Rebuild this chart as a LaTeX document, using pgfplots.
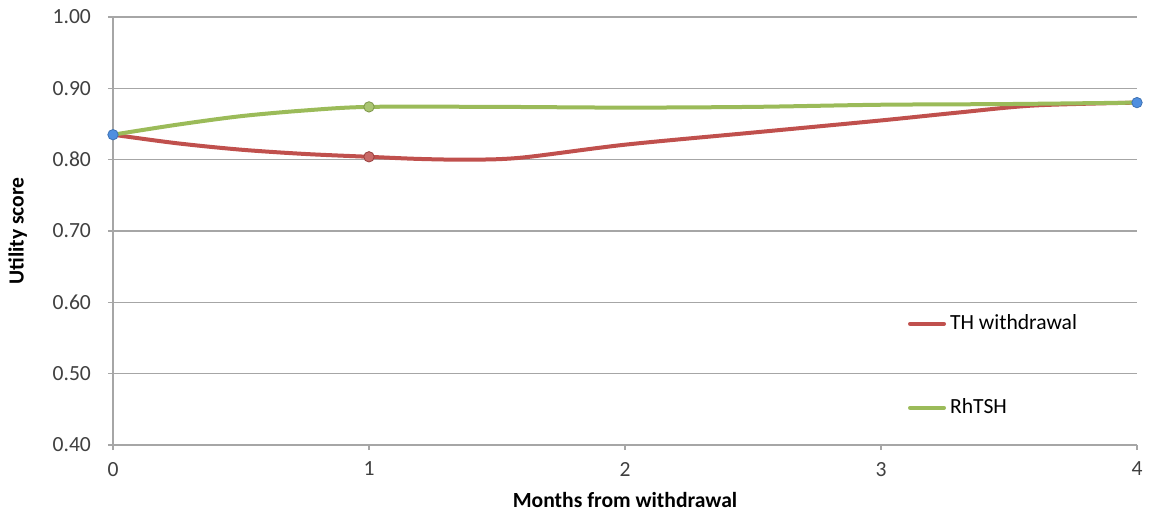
\documentclass[border=0pt]{standalone}
\usepackage{pgfplots}
\pgfplotsset{compat=1.18}
\usepackage{fontspec}
\setmainfont{Carlito}
\definecolor{redl}{HTML}{C0504D}
\definecolor{greenl}{HTML}{9BBB59}
\definecolor{bluem}{HTML}{4F8FE0}
\definecolor{gridc}{HTML}{A6A6A6}
\definecolor{txt}{HTML}{404040}
\begin{document}
\begin{tikzpicture}
\begin{axis}[name=ax,
  scale only axis, width=512pt, height=214pt,
  xmin=0, xmax=4, ymin=0.4, ymax=1.0,
  xtick={0,1,2,3,4}, ytick={0.4,0.5,0.6,0.7,0.8,0.9,1.0},
  yticklabel style={/pgf/number format/fixed,/pgf/number format/fixed zerofill,/pgf/number format/precision=2, xshift=-5pt},
  xticklabel style={yshift=-2.5pt},
  /pgf/number format/assume math mode=true,
  axis lines=left, axis line style={gridc, line width=0.75pt, -},
  ymajorgrids, grid style={gridc, line width=0.75pt},
  tick style={gridc, line width=0.75pt},
  tick align=outside, major tick length=2.5pt,
  ticklabel style={font=\fontsize{10.8}{12}\selectfont, text=txt},
  xlabel={\textbf{Months from withdrawal}},
  ylabel={\textbf{Utility score}},
  label style={font=\fontsize{10.8}{12}\selectfont, text=black},
  xlabel style={yshift=-1pt},
  ylabel style={yshift=6pt},
  legend style={at={(rel axis cs:0.776,0.185)}, anchor=west, draw=none, fill=none,
    font=\fontsize{10.8}{12}\selectfont, row sep=29pt, inner sep=0pt,
    legend cell align=left, every even column/.style={column sep=2pt}},
  legend image code/.code={\draw[#1, line width=2pt, line cap=round] (0pt,0pt) -- (17pt,0pt);},
  clip=false,
]
\addplot[redl, line width=2pt, smooth, tension=0.5] coordinates {
 (0,0.835) (0.25,0.823) (0.5,0.814) (0.75,0.808) (1,0.804) (1.2,0.801) (1.4,0.800) (1.6,0.803) (2,0.821) (2.5,0.838) (3,0.855) (3.3,0.866) (3.6,0.876) (4,0.880)};
\addlegendentry{TH withdrawal}
\addplot[greenl, line width=2pt, smooth, tension=0.5] coordinates {
 (0,0.835) (0.25,0.849) (0.5,0.861) (0.75,0.869) (1,0.874) (1.5,0.874) (2,0.873) (2.5,0.874) (3,0.877) (3.5,0.878) (4,0.880)};
\addlegendentry{RhTSH}
\addplot[only marks, mark=*, mark size=2.6pt, mark options={draw=redl!80!black, line width=0.4pt, fill=redl!85!white}, forget plot] coordinates {(1,0.804)};
\addplot[only marks, mark=*, mark size=2.6pt, mark options={draw=greenl!80!black, line width=0.4pt, fill=greenl!85!white}, forget plot] coordinates {(1,0.874)};
\addplot[only marks, mark=*, mark size=2.6pt, mark options={draw=bluem!80!black, line width=0.4pt, fill=bluem}, forget plot] coordinates {(0,0.835) (4,0.880)};
\end{axis}
\pgfresetboundingbox
\path (ax.south west) ++(-56.5pt,-34.5pt) coordinate (bl);
\path (ax.north east) ++(9pt,8.5pt) coordinate (tr);
\path (bl) rectangle (tr);
\end{tikzpicture}
\end{document}
